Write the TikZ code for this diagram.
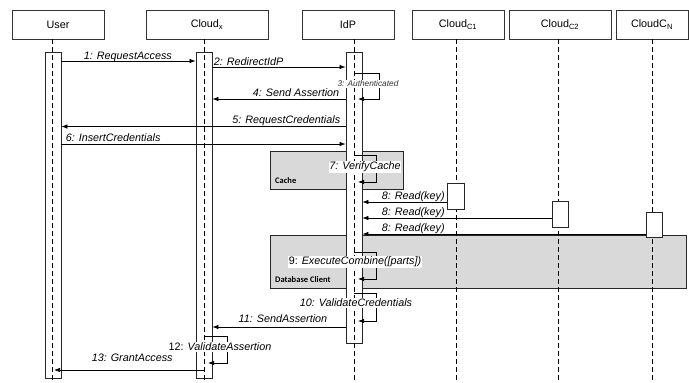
\documentclass[tikz,border=0pt]{standalone}
\usepackage{fontspec}
\setmainfont{Liberation Sans}
\newfontfamily\grpfont{Carlito}
\usetikzlibrary{arrows.meta}

\begin{document}
\begin{tikzpicture}[x=1pt,y=-1pt,
  head/.style={draw=black!80, line width=0.8pt, fill=white, inner sep=0pt,
    minimum height=29pt, font=\fontsize{10.8}{12}\selectfont},
  actbar/.style={draw=black!85, line width=0.8pt, fill=white, inner sep=0pt,
    minimum width=16pt},
  life/.style={line width=0.7pt, dash pattern=on 5pt off 3pt},
  msg/.style={line width=0.7pt, -{Latex[length=6pt,width=4.5pt]}},
  mlab/.style={inner sep=0.6pt, font=\fontsize{10.8}{12}\selectfont\itshape},
  wlab/.style={mlab, fill=white},
  grp/.style={draw=black!85, line width=0.8pt, fill=black!15, inner sep=0pt,
    anchor=north west},
  grplab/.style={inner sep=0pt, anchor=base west,
    font=\grpfont\bfseries\fontsize{8.5}{10}\selectfont},
]
\useasboundingbox (0,0) rectangle (689,383);

% participants
\node[head, minimum width=92pt]  (hUser) at (58,24.5)  {User};
\node[head, minimum width=122pt] (hCx)   at (207,24.5) {Cloud\textsubscript{x}};
\node[head, minimum width=92pt]  (hIdP)  at (348,24.5) {IdP};
\node[head, minimum width=92pt]  (hC1)   at (458,24.5) {Cloud\textsubscript{C1}};
\node[head, minimum width=102pt] (hC2)   at (560,24.5) {Cloud\textsubscript{C2}};
\node[head, minimum width=72pt]  (hCN)   at (652,24.5) {CloudC\textsubscript{N}};

% lifeline anchors
\coordinate (ux)  at (52.5,39);
\coordinate (cx)  at (204,39);
\coordinate (ix)  at (354,39);
\coordinate (c1x) at (456,39);
\coordinate (c2x) at (558,39);
\coordinate (cnx) at (652,39);

% grouping boxes
\node[grp, minimum width=133pt, minimum height=38pt] (cache) at (270,151) {};
\node[grplab] (cacheLab) at (275,183) {Cache};
\node[grp, minimum width=416pt, minimum height=53pt] (dbc) at (270,235) {};
\node[grplab] (dbcLab) at (275,282) {Database Client};

% activation bars
\node[actbar, minimum height=326pt] (ubar) at (53,215) {};
\node[actbar, minimum height=326pt] (cbar) at (204,215) {};
\node[actbar, minimum height=291pt] (ibar) at (354,197.5) {};

% lifelines
\draw[life] (ux)  -- (ux |- 0,380);
\draw[life] (cx)  -- (cx |- 0,380);
\draw[life] (ix)  -- (ix |- 0,383);
\draw[life] (c1x) -- (c1x |- 0,383);
\draw[life] (c2x) -- (c2x |- 0,383);
\draw[life] (cnx) -- (cnx |- 0,383);

% activation boxes of the storage clouds
\node[actbar, minimum width=17pt, minimum height=26pt] (c1bar) at (455.5,196) {};
\node[actbar, minimum height=26pt] (c2bar) at (560,214) {};
\node[actbar, minimum height=25pt] (cnbar) at (654,224.5) {};

% messages
\draw[msg] (ubar.east |- 0,61) -- (cbar.west |- 0,61);
\node[mlab, anchor=base west] (m1) at (83,59) {1: RequestAccess};

\draw[msg] (cbar.east |- 0,67) -- (ibar.west |- 0,67);
\node[mlab, anchor=base west] (m2) at (213,65) {2: RedirectIdP};

\draw[msg] (ix |- 0,73) -- ++(25,0) |- ([xshift=4pt]ix |- 0,99);
\node[mlab, fill=white, text=black!80, font=\fontsize{8.3}{10}\selectfont\itshape] (m3) at (368,84) {3: Authenticated};

\draw[msg] (ibar.west |- 0,99) -- (cbar.east |- 0,99);
\node[mlab, anchor=base east] (m4) at (340,96.5) {4: Send Assertion};

\draw[msg] (ibar.west |- 0,126.5) -- (ubar.east |- 0,126.5);
\node[mlab, anchor=base east] (m5) at (341,123.5) {5: RequestCredentials};

\draw[msg] (ubar.east |- 0,144) -- (ibar.west |- 0,144);
\node[mlab, anchor=base west] (m6) at (65,141.5) {6: InsertCredentials};

\draw[msg] (ix |- 0,155) -- ++(22,0) |- ([xshift=4pt]ix |- 0,182);
\node[wlab] (m7) at (365,167) {7: VerifyCache};

\draw[msg] (c1bar.west |- 0,202) -- (ibar.east |- 0,202);
\node[wlab, anchor=base west] (m8a) at (381,199.5) {8: Read(key)};
\draw[msg] (c2bar.west |- 0,218) -- (ibar.east |- 0,218);
\node[wlab, anchor=base west] (m8b) at (381,215.5) {8: Read(key)};
\draw[msg] (cnbar.west |- 0,234) -- (ibar.east |- 0,234);
\node[wlab, anchor=base west] (m8c) at (381,231.5) {8: Read(key)};

\draw[msg] (ix |- 0,252) -- ++(22,0) |- ([xshift=4pt]ix |- 0,279);
\node[wlab] (m9) at (355,262) {\upshape 9: \itshape ExecuteCombine([parts])};

\draw[msg] (ix |- 0,293) -- ++(22,0) |- ([xshift=4pt]ix |- 0,321);
\node[wlab] (m10) at (356,303) {10: ValidateCredentials};

\draw[msg] (ibar.west |- 0,327) -- (cbar.east |- 0,327);
\node[mlab, anchor=base east] (m11) at (328,322.5) {11: SendAssertion};

\draw[msg] (cx |- 0,336) -- ++(23,0) |- ([xshift=4pt]cx |- 0,363);
\node[wlab] (m12) at (220,347) {\upshape 12: \itshape ValidateAssertion};

\draw[msg] (cx |- 0,370) -- ([xshift=1.5pt]ux |- 0,370);
\node[mlab, anchor=base west] (m13) at (91,361.5) {13: GrantAccess};
\end{tikzpicture}
\end{document}
